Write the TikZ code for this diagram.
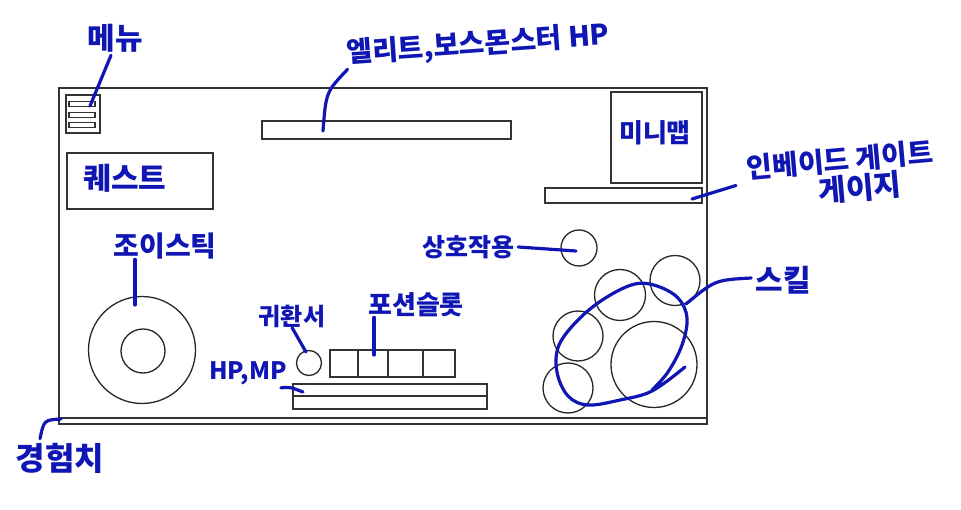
\documentclass[tikz,border=0pt]{standalone}
\usepackage{fontspec}
\newfontfamily\kr{Noto Sans CJK KR}
\definecolor{pen}{RGB}{16,22,180}
\begin{document}
\begin{tikzpicture}[x=1pt, y=-1pt,
		box/.style={draw=black!80, line width=1.6pt},
		ring/.style={draw=black!85, line width=1.3pt},
		lbl/.style={text=pen, inner sep=0pt, font=\kr\bfseries\fontsize{#1}{#1}\selectfont},
		lbl/.default=26,
		lead/.style={draw=pen, line width=3.2pt, line cap=round, line join=round}]
		\useasboundingbox (0,0) rectangle (961,510);

		% screen frame and exp bar
		\draw[box] (59,88) rectangle (707,424);
		\draw[box] (59,418) -- (707,418);

		% menu
		\draw[box] (66,95) rectangle (100,133);
		\foreach \y in {104,115,125}
			\draw[box, line width=1.3pt] (69,\y-2.2) rectangle (95,\y+2.2);

		\draw[box] (67,153) rectangle (213,209);
		\draw[box] (262,121) rectangle (511,139);
		\draw[box] (611,92) rectangle (702,183);
		\draw[box] (545,188) rectangle (702,203);

		% joystick
		\draw[ring] (142,350) circle[radius=53.5];
		\draw[ring] (143,351) circle[radius=22];

		% scroll, potions, hp/mp
		\draw[ring] (309,363) circle[radius=12.5];
		\draw[box] (330,350) rectangle (455,377);
		\foreach \x in {358,388,423}
			\draw[box] (\x,350) -- (\x,377);
		\draw[box] (293,384) rectangle (487,409);
		\draw[box] (293,396) -- (487,396);

		% interact and skills
		\draw[ring] (579,248) circle[radius=18];
		\draw[ring] (620,295) circle[radius=25.5];
		\draw[ring] (675,280.5) circle[radius=25];
		\draw[ring] (578,336) circle[radius=25];
		\draw[ring] (568,388) circle[radius=25];
		\draw[ring] (654,364.5) circle[radius=43];

		% where the leaders end
		\coordinate (m-menu) at (90,106);
		\coordinate (m-boss) at (323,131);
		\coordinate (m-inv) at (692,199);
		\coordinate (m-joy) at (135,305);
		\coordinate (m-scroll) at (306,352);
		\coordinate (m-potion) at (374,355);
		\coordinate (m-hpmp) at (303,392);
		\coordinate (m-act) at (576,251);
		\coordinate (m-skill) at (686,304);
		\coordinate (m-exp) at (61,419);

		% labels
		\node[lbl=30] (t-menu) at (115,38) {메뉴};
		\node[lbl=28, rotate=4] (t-boss) at (478,45) {엘리트,보스몬스터 HP};
		\node[lbl=26] (t-mini) at (655,133) {미니맵};
		\node[lbl=28, rotate=5] (t-inv1) at (840,160) {인베이드 게이트};
		\node[lbl=30, rotate=5] (t-inv2) at (860,188) {게이지};
		\node[lbl=30] (t-quest) at (125,178) {퀘스트};
		\node[lbl=28] (t-joy) at (165,246) {조이스틱};
		\node[lbl=24] (t-scroll) at (292,316) {귀환서};
		\node[lbl=26] (t-potion) at (416,305) {포션슬롯};
		\node[lbl=24] (t-hpmp) at (248,373) {HP,MP};
		\node[lbl=25] (t-act) at (468,247) {상호작용};
		\node[lbl=30] (t-skill) at (783,280) {스킬};
		\node[lbl=32] (t-exp) at (60,458) {경험치};

		% leaders
		\draw[lead] (t-menu.south) ++(-4,3) -- (m-menu);
		\draw[lead] (t-boss.south west) .. controls (326,92) .. (m-boss);
		\draw[lead] (t-inv1.south west) ++(-12,4) -- (m-inv);
		\draw[lead] (m-joy |- t-joy.south) -- (m-joy);
		\draw[lead] (t-scroll.south) -- (m-scroll);
		\draw[lead] (m-potion |- t-potion.south) -- (m-potion);
		\draw[lead] (t-hpmp.south east) ++(-6,3) .. controls (290,387) .. (m-hpmp);
		\draw[lead] (t-act.east) ++(4,0) -- (m-act);
		\draw[lead] (t-skill.west) ++(-4,-2) .. controls (715,280) .. (m-skill);
		\draw[lead] (t-exp.north) ++(-20,-4) .. controls (44,420) .. (m-exp);

		% loop round the skills
		\draw[lead] plot[smooth, tension=0.6] coordinates {(685,367) (652,391) (620,400) (588,405) (568,396) (557,372) (559,345) (580,318) (607,297) (635,284) (657,286) (678,298) (687,318) (682,345) (668,372) (652,390)};
	\end{tikzpicture}
\end{document}
